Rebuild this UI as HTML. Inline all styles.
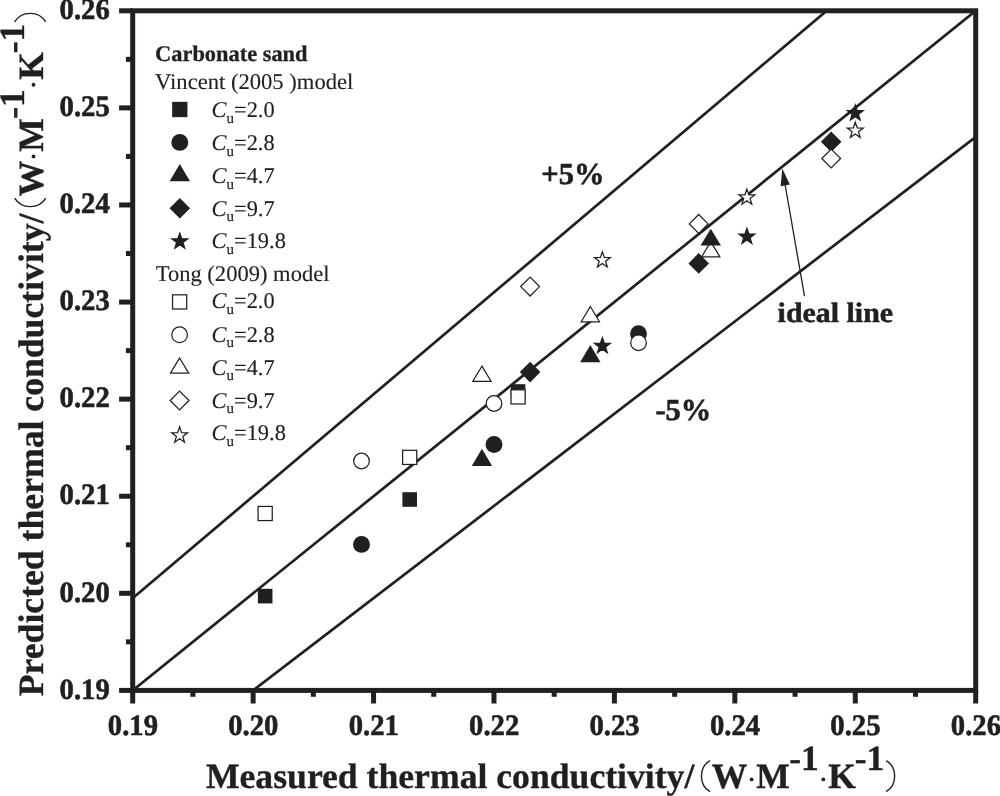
<!DOCTYPE html>
<html><head><meta charset="utf-8"><title>Predicted vs measured thermal conductivity</title>
<style>
html,body{margin:0;padding:0;background:#fff;}
body{width:1000px;height:796px;overflow:hidden;font-family:"Liberation Serif",serif;}
svg{display:block;will-change:transform;opacity:0.999;}
text{font-family:"Liberation Serif",serif;fill:#231f20;text-rendering:geometricPrecision;}
.b{font-weight:bold;}
.i{font-style:italic;}
</style></head><body>
<svg width="1000" height="796" viewBox="0 0 1000 796">
<rect x="0" y="0" width="1000" height="796" fill="#ffffff"/>
<defs><clipPath id="plot"><rect x="132.7" y="10.8" width="843" height="679.6"/></clipPath></defs>
<g clip-path="url(#plot)" stroke="#231f20" stroke-width="2.7" fill="none" stroke-linecap="butt">
<line x1="12.27" y1="787.49" x2="1096.13" y2="-86.29"/>
<line x1="12.27" y1="700.11" x2="1096.13" y2="-217.35"/>
<line x1="12.27" y1="874.86" x2="1096.13" y2="44.78"/>
</g>
<g stroke="#231f20" stroke-width="5.0" fill="none" stroke-linecap="butt">
<rect x="132.7" y="10.8" width="843" height="679.6"/>
<line x1="119.1" y1="690.4" x2="132.7" y2="690.4"/>
<line x1="132.7" y1="690.4" x2="132.7" y2="703.5"/>
<line x1="119.1" y1="593.31" x2="132.7" y2="593.31"/>
<line x1="253.13" y1="690.4" x2="253.13" y2="703.5"/>
<line x1="119.1" y1="496.23" x2="132.7" y2="496.23"/>
<line x1="373.56" y1="690.4" x2="373.56" y2="703.5"/>
<line x1="119.1" y1="399.14" x2="132.7" y2="399.14"/>
<line x1="493.99" y1="690.4" x2="493.99" y2="703.5"/>
<line x1="119.1" y1="302.06" x2="132.7" y2="302.06"/>
<line x1="614.41" y1="690.4" x2="614.41" y2="703.5"/>
<line x1="119.1" y1="204.97" x2="132.7" y2="204.97"/>
<line x1="734.84" y1="690.4" x2="734.84" y2="703.5"/>
<line x1="119.1" y1="107.89" x2="132.7" y2="107.89"/>
<line x1="855.27" y1="690.4" x2="855.27" y2="703.5"/>
<line x1="119.1" y1="10.8" x2="132.7" y2="10.8"/>
<line x1="975.7" y1="690.4" x2="975.7" y2="703.5"/>
<line x1="125.9" y1="641.86" x2="132.7" y2="641.86"/>
<line x1="192.91" y1="690.4" x2="192.91" y2="696.8"/>
<line x1="125.9" y1="544.77" x2="132.7" y2="544.77"/>
<line x1="313.34" y1="690.4" x2="313.34" y2="696.8"/>
<line x1="125.9" y1="447.69" x2="132.7" y2="447.69"/>
<line x1="433.77" y1="690.4" x2="433.77" y2="696.8"/>
<line x1="125.9" y1="350.6" x2="132.7" y2="350.6"/>
<line x1="554.2" y1="690.4" x2="554.2" y2="696.8"/>
<line x1="125.9" y1="253.51" x2="132.7" y2="253.51"/>
<line x1="674.63" y1="690.4" x2="674.63" y2="696.8"/>
<line x1="125.9" y1="156.43" x2="132.7" y2="156.43"/>
<line x1="795.06" y1="690.4" x2="795.06" y2="696.8"/>
<line x1="125.9" y1="59.34" x2="132.7" y2="59.34"/>
<line x1="915.49" y1="690.4" x2="915.49" y2="696.8"/>
</g>
<g class="b" font-size="29.6" stroke="#231f20" stroke-width="0.6">
<text x="59.6" y="698.6" textLength="50.2" lengthAdjust="spacingAndGlyphs">0.19</text>
<text x="59.6" y="601.51" textLength="50.2" lengthAdjust="spacingAndGlyphs">0.20</text>
<text x="59.6" y="504.43" textLength="50.2" lengthAdjust="spacingAndGlyphs">0.21</text>
<text x="59.6" y="407.34" textLength="50.2" lengthAdjust="spacingAndGlyphs">0.22</text>
<text x="59.6" y="310.26" textLength="50.2" lengthAdjust="spacingAndGlyphs">0.23</text>
<text x="59.6" y="213.17" textLength="50.2" lengthAdjust="spacingAndGlyphs">0.24</text>
<text x="59.6" y="116.09" textLength="50.2" lengthAdjust="spacingAndGlyphs">0.25</text>
<text x="59.6" y="19" textLength="50.2" lengthAdjust="spacingAndGlyphs">0.26</text>
<text x="107.8" y="735.4" textLength="50.2" lengthAdjust="spacingAndGlyphs">0.19</text>
<text x="228.23" y="735.4" textLength="50.2" lengthAdjust="spacingAndGlyphs">0.20</text>
<text x="348.66" y="735.4" textLength="50.2" lengthAdjust="spacingAndGlyphs">0.21</text>
<text x="469.09" y="735.4" textLength="50.2" lengthAdjust="spacingAndGlyphs">0.22</text>
<text x="589.51" y="735.4" textLength="50.2" lengthAdjust="spacingAndGlyphs">0.23</text>
<text x="709.94" y="735.4" textLength="50.2" lengthAdjust="spacingAndGlyphs">0.24</text>
<text x="830.37" y="735.4" textLength="50.2" lengthAdjust="spacingAndGlyphs">0.25</text>
<text x="950.8" y="735.4" textLength="50.2" lengthAdjust="spacingAndGlyphs">0.26</text>
</g>
<g>
<rect x="257.87" y="588.8" width="14.6" height="14.6" fill="#231f20"/>
<rect x="402.39" y="492.2" width="14.6" height="14.6" fill="#231f20"/>
<rect x="510.77" y="384.2" width="14.6" height="14.6" fill="#231f20"/>
<circle cx="361.51" cy="544.4" r="8.45" fill="#231f20"/>
<circle cx="493.99" cy="444.5" r="8.45" fill="#231f20"/>
<circle cx="638.5" cy="333.8" r="8.45" fill="#231f20"/>
<polygon points="481.94,448.7 492.14,466.1 471.74,466.1" fill="#231f20"/>
<polygon points="590.33,345 600.53,362.2 580.13,362.2" fill="#231f20"/>
<polygon points="530.11,362.68 539.53,372.1 530.11,381.52 520.7,372.1" fill="#231f20" stroke="#231f20" stroke-width="1.25" stroke-linejoin="miter"/>
<polygon points="698.71,253.98 708.13,263.4 698.71,272.82 689.3,263.4" fill="#231f20" stroke="#231f20" stroke-width="1.25" stroke-linejoin="miter"/>
<polygon points="831.19,132.38 840.6,141.8 831.19,151.22 821.77,141.8" fill="#231f20" stroke="#231f20" stroke-width="1.25" stroke-linejoin="miter"/>
<polygon points="602.37,337.62 604.34,343.29 610.34,343.41 605.56,347.04 607.29,352.78 602.37,349.35 597.45,352.78 599.19,347.04 594.41,343.41 600.4,343.29" fill="#231f20" stroke="#231f20" stroke-width="1.25" stroke-linejoin="miter"/>
<polygon points="746.89,228.32 748.85,233.99 754.85,234.11 750.07,237.74 751.81,243.48 746.89,240.05 741.96,243.48 743.7,237.74 738.92,234.11 744.92,233.99" fill="#231f20" stroke="#231f20" stroke-width="1.25" stroke-linejoin="miter"/>
<polygon points="855.27,104.92 857.24,110.59 863.24,110.71 858.46,114.34 860.19,120.08 855.27,116.65 850.35,120.08 852.09,114.34 847.31,110.71 853.3,110.59" fill="#231f20" stroke="#231f20" stroke-width="1.25" stroke-linejoin="miter"/>
<rect x="258.1" y="506.43" width="14.15" height="14.15" fill="#fff" stroke="#231f20" stroke-width="1.25"/>
<rect x="402.61" y="450.32" width="14.15" height="14.15" fill="#fff" stroke="#231f20" stroke-width="1.25"/>
<rect x="511" y="389.82" width="14.15" height="14.15" fill="#fff" stroke="#231f20" stroke-width="1.25"/>
<circle cx="361.51" cy="461" r="7.82" fill="#fff" stroke="#231f20" stroke-width="1.25"/>
<circle cx="493.99" cy="403.5" r="7.82" fill="#fff" stroke="#231f20" stroke-width="1.25"/>
<circle cx="638.5" cy="342.7" r="7.82" fill="#fff" stroke="#231f20" stroke-width="1.25"/>
<polygon points="481.94,366.15 491.06,381.27 472.83,381.27" fill="#fff" stroke="#231f20" stroke-width="1.25" stroke-linejoin="miter"/>
<polygon points="590.33,306.55 599.44,321.77 581.22,321.77" fill="#fff" stroke="#231f20" stroke-width="1.25" stroke-linejoin="miter"/>
<polygon points="710.76,241.65 719.87,256.88 701.64,256.88" fill="#fff" stroke="#231f20" stroke-width="1.25" stroke-linejoin="miter"/>
<polygon points="530.11,277.18 539.53,286.6 530.11,296.02 520.7,286.6" fill="#fff" stroke="#231f20" stroke-width="1.25" stroke-linejoin="miter"/>
<polygon points="698.71,214.48 708.13,223.9 698.71,233.32 689.3,223.9" fill="#fff" stroke="#231f20" stroke-width="1.25" stroke-linejoin="miter"/>
<polygon points="831.19,149.08 840.6,158.5 831.19,167.92 821.77,158.5" fill="#fff" stroke="#231f20" stroke-width="1.25" stroke-linejoin="miter"/>
<polygon points="602.37,251.82 604.34,257.49 610.34,257.61 605.56,261.24 607.29,266.98 602.37,263.55 597.45,266.98 599.19,261.24 594.41,257.61 600.4,257.49" fill="#fff" stroke="#231f20" stroke-width="1.25" stroke-linejoin="miter"/>
<polygon points="746.89,189.12 748.85,194.79 754.85,194.91 750.07,198.54 751.81,204.28 746.89,200.85 741.96,204.28 743.7,198.54 738.92,194.91 744.92,194.79" fill="#fff" stroke="#231f20" stroke-width="1.25" stroke-linejoin="miter"/>
<polygon points="855.27,122.22 857.24,127.89 863.24,128.01 858.46,131.64 860.19,137.38 855.27,133.95 850.35,137.38 852.09,131.64 847.31,128.01 853.3,127.89" fill="#fff" stroke="#231f20" stroke-width="1.25" stroke-linejoin="miter"/>
<polygon points="710.76,228.8 720.96,245.6 700.56,245.6" fill="#231f20"/>
</g>
<g class="b" stroke="#231f20" stroke-width="0.6">
<text font-size="30.5" x="541.3" y="183.5">+5%</text>
<text font-size="30.5" x="655.4" y="419.9">-5%</text>
<text font-size="28.2" x="777.6" y="322.4" stroke-width="0.5" textLength="115.5" lengthAdjust="spacingAndGlyphs">ideal line</text>
</g>
<line x1="804.5" y1="296.2" x2="785" y2="184" stroke="#231f20" stroke-width="1.3"/>
<polygon points="782.3,168.4 789.87,184.54 780.61,186.15" fill="#231f20"/>
<g font-size="22.4" stroke="#231f20" stroke-width="0.15">
<text class="b" x="155.1" y="61.1" stroke="#231f20" stroke-width="0.3">Carbonate sand</text>
<text x="155.1" y="88.8" textLength="198.2" lengthAdjust="spacingAndGlyphs">Vincent (2005 )model</text>
<text x="155.7" y="281.4" textLength="173.8" lengthAdjust="spacingAndGlyphs">Tong (2009) model</text>
<text x="211.6" y="117"><tspan class="i">C</tspan><tspan font-size="15" dy="5.7">u</tspan><tspan dy="-5.7">=2.0</tspan></text>
<text x="211.6" y="150"><tspan class="i">C</tspan><tspan font-size="15" dy="5.7">u</tspan><tspan dy="-5.7">=2.8</tspan></text>
<text x="211.6" y="182.8"><tspan class="i">C</tspan><tspan font-size="15" dy="5.7">u</tspan><tspan dy="-5.7">=4.7</tspan></text>
<text x="211.6" y="215.6"><tspan class="i">C</tspan><tspan font-size="15" dy="5.7">u</tspan><tspan dy="-5.7">=9.7</tspan></text>
<text x="211.6" y="248.4"><tspan class="i">C</tspan><tspan font-size="15" dy="5.7">u</tspan><tspan dy="-5.7">=19.8</tspan></text>
<text x="211.6" y="308.4"><tspan class="i">C</tspan><tspan font-size="15" dy="5.7">u</tspan><tspan dy="-5.7">=2.0</tspan></text>
<text x="211.6" y="341.6"><tspan class="i">C</tspan><tspan font-size="15" dy="5.7">u</tspan><tspan dy="-5.7">=2.8</tspan></text>
<text x="211.6" y="374.5"><tspan class="i">C</tspan><tspan font-size="15" dy="5.7">u</tspan><tspan dy="-5.7">=4.7</tspan></text>
<text x="211.6" y="407.6"><tspan class="i">C</tspan><tspan font-size="15" dy="5.7">u</tspan><tspan dy="-5.7">=9.7</tspan></text>
<text x="211.6" y="440"><tspan class="i">C</tspan><tspan font-size="15" dy="5.7">u</tspan><tspan dy="-5.7">=19.8</tspan></text>
</g>
<rect x="172.15" y="101.85" width="15.3" height="15.3" fill="#231f20"/>
<circle cx="179.8" cy="142.4" r="8.45" fill="#231f20"/>
<polygon points="179.8,164 190,181.2 169.6,181.2" fill="#231f20"/>
<polygon points="179.8,198.88 189.22,208.3 179.8,217.72 170.38,208.3" fill="#231f20" stroke="#231f20" stroke-width="1.25" stroke-linejoin="miter"/>
<polygon points="179.8,233.12 181.77,238.79 187.77,238.91 182.99,242.54 184.72,248.28 179.8,244.85 174.88,248.28 176.61,242.54 171.83,238.91 177.83,238.79" fill="#231f20" stroke="#231f20" stroke-width="1.25" stroke-linejoin="miter"/>
<rect x="172.53" y="294.82" width="14.15" height="14.15" fill="#fff" stroke="#231f20" stroke-width="1.25"/>
<circle cx="179.6" cy="334.8" r="7.82" fill="#fff" stroke="#231f20" stroke-width="1.25"/>
<polygon points="179.6,358.05 188.71,373.07 170.49,373.07" fill="#fff" stroke="#231f20" stroke-width="1.25" stroke-linejoin="miter"/>
<polygon points="179.6,391.08 189.02,400.5 179.6,409.92 170.18,400.5" fill="#fff" stroke="#231f20" stroke-width="1.25" stroke-linejoin="miter"/>
<polygon points="179.6,427.02 181.57,432.69 187.57,432.81 182.79,436.44 184.52,442.18 179.6,438.75 174.68,442.18 176.41,436.44 171.63,432.81 177.63,432.69" fill="#fff" stroke="#231f20" stroke-width="1.25" stroke-linejoin="miter"/>
<g transform="translate(205.9,788.4)">
<text class="b" font-size="35.5" x="0" y="0" textLength="488.4" lengthAdjust="spacingAndGlyphs" stroke="#231f20" stroke-width="0.35">Measured thermal conductivity/</text>
<path d="M504.1,3.2 C492.7,-3.5 492.7,-21 504.1,-27.8" fill="none" stroke="#231f20" stroke-width="1.4"/>
<g class="b" font-size="35.5" stroke="#231f20" stroke-width="0.35">
<text x="505.8" y="0">W</text>
<text x="550.4" y="0">M</text>
<text x="583.3" y="-18.5">-1</text>
<text x="622.3" y="0">K</text>
<text x="648.8" y="-18.5">-1</text>
</g>
<circle cx="545.7" cy="-9.0" r="1.9" fill="#231f20"/>
<circle cx="617.4" cy="-9.0" r="1.9" fill="#231f20"/>
<path d="M680.2,3.2 C691.6,-3.5 691.6,-21 680.2,-27.8" fill="none" stroke="#231f20" stroke-width="1.4"/>
</g>
<g transform="translate(42.5,696.2) rotate(-90)">
<text class="b" font-size="35.5" x="0" y="0" textLength="482.6" lengthAdjust="spacingAndGlyphs" stroke="#231f20" stroke-width="0.35">Predicted thermal conductivity/</text>
<path d="M498.17,3.2 C486.77,-3.5 486.77,-21 498.17,-27.8" fill="none" stroke="#231f20" stroke-width="1.4"/>
<g class="b" font-size="35.5" stroke="#231f20" stroke-width="0.35">
<text x="499.87" y="0">W</text>
<text x="544.47" y="0">M</text>
<text x="577.37" y="-18.5">-1</text>
<text x="616.37" y="0">K</text>
<text x="642.87" y="-18.5">-1</text>
</g>
<circle cx="539.77" cy="-9.0" r="1.9" fill="#231f20"/>
<circle cx="611.47" cy="-9.0" r="1.9" fill="#231f20"/>
<path d="M674.27,3.2 C685.67,-3.5 685.67,-21 674.27,-27.8" fill="none" stroke="#231f20" stroke-width="1.4"/>
</g>
</svg>
</body></html>
